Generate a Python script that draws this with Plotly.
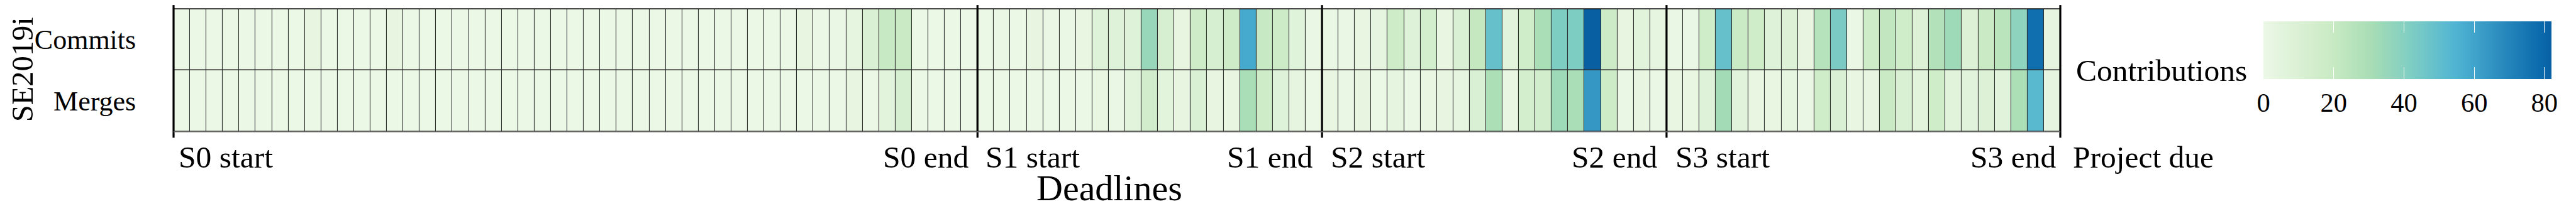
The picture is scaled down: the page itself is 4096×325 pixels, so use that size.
import plotly.graph_objects as go
import numpy as np

# ---------------- data ----------------
rows = ["Commits", "Merges"]
commits = [0, 0, 0, 0, 0, 0, 0, 0, 3, 0,
           0, 0, 0, 3, 0, 0, 0, 0, 0, 0,
           0, 0, 0, 0, 0, 0, 0, 0, 0, 0,
           0, 0, 0, 0, 0, 0, 0, 0, 3, 0,
           1, 4, 10, 20, 19, 0, 0, 0, 0, 0,
           1, 0, 3, 1, 1, 2, 8, 8, 8, 35,
           12, 3, 17, 12, 17, 58, 20, 18, 7, 1,
           1, 1, 2, 4, 17, 8, 14, 2, 10, 21,
           49, 5, 16, 30, 42, 42, 82, 18, 3, 6,
           4, 1, 1, 16, 49, 19, 16, 8, 9, 3,
           26, 43, 1, 17, 22, 16, 9, 27, 33, 9,
           19, 25, 38, 77, 4]
merges = [0, 0, 0, 0, 0, 0, 0, 0, 0, 0,
          0, 0, 0, 0, 0, 0, 0, 0, 0, 0,
          0, 0, 0, 0, 0, 0, 0, 0, 0, 0,
          0, 0, 0, 0, 0, 0, 0, 0, 0, 0,
          0, 3, 0, 5, 12, 0, 0, 0, 0, 0,
          0, 0, 0, 0, 0, 0, 2, 1, 5, 15,
          5, 3, 10, 3, 3, 30, 17, 8, 4, 0,
          2, 1, 3, 0, 4, 1, 2, 3, 4, 10,
          29, 2, 14, 15, 33, 30, 64, 18, 1, 3,
          1, 2, 2, 8, 32, 6, 2, 2, 4, 1,
          16, 10, 2, 3, 19, 11, 5, 16, 6, 6,
          9, 6, 29, 52, 4]
deadline_cols = [0, 49, 70, 91, 115]
deadline_labels = ["S0 start", "S0 end", "S1 start", "S1 end", "S2 start",
                   "S2 end", "S3 start", "S3 end", "Project due"]
cbar_ticks = [0, 20, 40, 60, 80]
zmax = 82
y_title = "SE2019i"
x_title = "Deadlines"
cbar_title = "Contributions"

# ---------------- styling ----------------
FONT = "Liberation Serif"
W, H = 4096, 325
ML, MR, MT, MB = 267.7, 828.4, 5.9, 123.0
PW = W - ML - MR
PH = H - MT - MB


def py(px_from_top):
    """pixel (from top of page) -> paper y"""
    return (H - MB - px_from_top) / PH


def pxx(px_from_left):
    return (px_from_left - ML) / PW


# truncated GnBu colour scale
gnbu = ['#f7fcf0', '#e0f3db', '#ccebc5', '#a8ddb5', '#7bccc4',
        '#4eb3d3', '#2b8cbe', '#0868ac', '#084081']
gnbu_rgb = np.array([[int(c[i:i + 2], 16) for i in (1, 3, 5)] for c in gnbu], float)


def gnbu_at(f):
    pos = f * (len(gnbu) - 1)
    i = min(int(pos), len(gnbu) - 2)
    t = pos - i
    c = gnbu_rgb[i] * (1 - t) + gnbu_rgb[i + 1] * t
    return "rgb(%d,%d,%d)" % tuple(np.round(c))


lo, hi = 0.06, 0.90
colorscale = [[t, gnbu_at(lo + t * (hi - lo))] for t in np.linspace(0, 1, 25)]
clear = [[0, "rgba(0,0,0,0)"], [1, "rgba(0,0,0,0)"]]

ncol = len(commits)
xs = np.arange(ncol) + 0.5
z = [commits, merges]

cb_left = 3590.6
cb_len = 458.4
cb_top = 25.9
cb_thick = 92.0
tick_len = 18.4

fig = go.Figure()
fig.add_trace(go.Heatmap(
    z=z, x=xs, y=rows, zmin=0, zmax=zmax, colorscale=colorscale,
    xgap=1.1, ygap=1.6, hoverinfo="skip",
    colorbar=dict(
        orientation="h", x=pxx(cb_left), xanchor="left", y=py(cb_top), yanchor="top",
        len=cb_len, lenmode="pixels", thickness=cb_thick, thicknessmode="pixels",
        xpad=0, ypad=0, outlinewidth=0,
        tickvals=cbar_ticks, ticks="",
        tickfont=dict(family=FONT, size=42.5, color="black"),
    ),
))
# white in-bar tick marks (top and bottom) via transparent colour bars
for top in (cb_top, cb_top + cb_thick - tick_len):
    fig.add_trace(go.Heatmap(
        z=z, x=xs, y=rows, zmin=0, zmax=zmax, colorscale=clear, hoverinfo="skip",
        colorbar=dict(
            orientation="h", x=pxx(cb_left), xanchor="left", y=py(top), yanchor="top",
            len=cb_len, lenmode="pixels", thickness=tick_len, thicknessmode="pixels",
            xpad=0, ypad=0, outlinewidth=0,
            tickvals=cbar_ticks[1:], ticks="inside", ticklen=tick_len, tickwidth=1.4,
            tickcolor="white", showticklabels=False,
        ),
    ))

shapes = []
for d in deadline_cols:
    shapes.append(dict(type="line", xref="x domain", yref="paper",
                       x0=d / ncol, x1=d / ncol, y0=py(211.4), y1=py(0),
                       line=dict(color="black", width=3.2), layer="above"))
shapes.append(dict(type="line", xref="paper", yref="paper", x0=0, x1=1, y0=1, y1=1,
                   line=dict(color="#111111", width=1.3), layer="above"))
shapes.append(dict(type="line", xref="paper", yref="paper", x0=0, x1=1, y0=0, y1=0,
                   line=dict(color="#7a7a7a", width=1.6), layer="above"))

annotations = []
# deadline labels: (deadline index, side, gap px)
placement = [(0, 1, 8.0), (1, -1, 14.1), (1, 1, 12.7), (2, -1, 15.3), (2, 1, 14.4),
             (3, -1, 14.5), (3, 1, 13.8), (4, -1, 7.1), (4, 1, 20.3)]
for lab, (di, side, gap) in zip(deadline_labels, placement):
    annotations.append(dict(
        text=lab, xref="x domain", yref="paper", x=deadline_cols[di] / ncol, y=py(242.9),
        xanchor="left" if side > 0 else "right", yanchor="middle",
        xshift=side * gap, showarrow=False, borderpad=0, borderwidth=0,
        font=dict(family=FONT, size=49.5, color="black")))
annotations.append(dict(
    text=x_title, xref="paper", yref="paper", x=pxx(1755.5), y=py(292.0),
    xanchor="center", yanchor="middle", showarrow=False, borderpad=0, borderwidth=0,
    font=dict(family=FONT, size=58, color="black")))
annotations.append(dict(
    text=y_title, xref="paper", yref="paper", x=pxx(27.5), y=py(102.5),
    xanchor="center", yanchor="middle", textangle=-90, showarrow=False,
    borderpad=0, borderwidth=0, font=dict(family=FONT, size=48.5, color="black")))
annotations.append(dict(
    text=cbar_title, xref="paper", yref="paper", x=pxx(3564.7), y=py(104.2),
    xanchor="right", yanchor="middle", showarrow=False, borderpad=0, borderwidth=0,
    font=dict(family=FONT, size=49.5, color="black")))

fig.update_layout(
    width=W, height=H,
    margin=dict(l=ML, r=MR, t=MT, b=MB, pad=0, autoexpand=False),
    paper_bgcolor="white", plot_bgcolor="#2e2e2e",
    font=dict(family=FONT, color="black"),
    xaxis=dict(range=[0, ncol], showgrid=False, zeroline=False, showticklabels=False,
               ticks="", showline=False, fixedrange=True, automargin=False),
    yaxis=dict(autorange="reversed", showgrid=False, zeroline=False,
               ticks="outside", ticklen=50, tickcolor="rgba(0,0,0,0)",
               showline=False, automargin=False,
               tickfont=dict(family=FONT, size=44, color="black")),
    shapes=shapes, annotations=annotations, showlegend=False,
)

fig.write_html("out.html")
